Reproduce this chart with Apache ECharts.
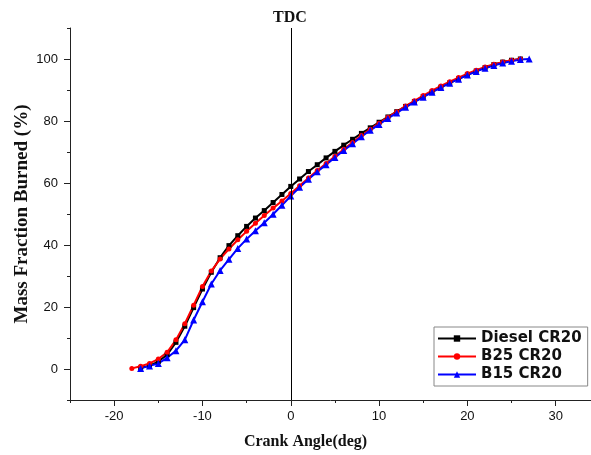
<!DOCTYPE html>
<html>
<head>
<meta charset="utf-8">
<script src="https://cdn.jsdelivr.net/npm/echarts@6/dist/echarts.min.js"></script>
<style>
  html, body { margin: 0; padding: 0; background: #fff; }
  #chart { width: 591px; height: 455px; }
</style>
</head>
<body>
<div id="chart"></div>
<script>
// Crank angle (deg) and mass fraction burned (%) for each fuel
const dieselAngles = [-17,-16,-15,-14,-13,-12,-11,-10,-9,-8,-7,-6,-5,-4,-3,-2,-1,0,1,2,3,4,5,6,7,8,9,10,11,12,13,14,15,16,17,18,19,20,21,22,23,24,25,26];
const dieselMfb = [0.3,1.1,2.4,4.6,8.6,13.8,19.8,25.8,31.2,35.9,39.8,43.0,46.0,48.7,51.1,53.7,56.3,58.9,61.3,63.7,65.9,68.1,70.2,72.2,74.1,76.0,77.8,79.6,81.3,83.0,84.7,86.3,87.9,89.4,90.9,92.3,93.6,94.9,96.1,97.2,98.2,99.0,99.6,100.0];

const b25Angles = [-18,-17,-16,-15,-14,-13,-12,-11,-10,-9,-8,-7,-6,-5,-4,-3,-2,-1,0,1,2,3,4,5,6,7,8,9,10,11,12,13,14,15,16,17,18,19,20,21,22,23,24,25,26];
const b25Mfb = [0.2,0.9,1.8,3.2,5.4,9.4,14.6,20.6,26.6,31.6,35.5,38.7,41.7,44.4,47.0,49.5,51.9,54.2,56.6,59.1,61.6,64.0,66.3,68.6,70.9,73.1,75.3,77.3,79.3,81.2,83.0,84.8,86.5,88.2,89.8,91.3,92.7,94.0,95.3,96.4,97.4,98.3,99.0,99.6,100.0];

const b15Angles = [-17,-16,-15,-14,-13,-12,-11,-10,-9,-8,-7,-6,-5,-4,-3,-2,-1,0,1,2,3,4,5,6,7,8,9,10,11,12,13,14,15,16,17,18,19,20,21,22,23,24,25,26,27];
const b15Mfb = [0.2,1.0,1.8,3.6,5.9,9.4,15.8,21.7,27.4,31.8,35.4,38.9,41.9,44.6,47.2,49.9,52.8,55.8,58.6,61.2,63.6,65.9,68.2,70.5,72.7,74.9,77.0,78.9,80.8,82.6,84.4,86.1,87.7,89.3,90.8,92.2,93.5,94.8,96.0,97.0,97.9,98.7,99.3,99.8,100.0];

const seriesNames = ['Diesel CR20', 'B25 CR20', 'B15 CR20'];
const seriesColors = ['#000000', '#ff0000', '#0000ff'];

const xMajorTicks = [-20, -10, 0, 10, 20, 30];
const xMinorTicks = [-25, -15, -5, 5, 15, 25];
const yMajorTicks = [0, 20, 40, 60, 80, 100];
const yMinorTicks = [-10, 10, 30, 50, 70, 90, 110];

const pairs = (xs, ys) => xs.map((x, i) => [x, ys[i]]);

const chart = echarts.init(document.getElementById('chart'), null, { renderer: 'canvas' });

const axisLineStyle = { color: '#222', width: 1 };
const labelFont = { fontFamily: 'Liberation Sans', fontSize: 13, color: '#111' };

const lineSeries = (name, color, symbol, size, data) => ({
  name: name,
  type: 'line',
  data: data,
  symbol: symbol,
  symbolSize: size,
  showSymbol: true,
  lineStyle: { color: color, width: 2 },
  itemStyle: { color: color },
  animation: false
});

chart.setOption({
  animation: false,
  backgroundColor: '#ffffff',
  grid: { left: 70, right: 0, top: 28, bottom: 55 },
  xAxis: [
    {
      type: 'value', min: -25, max: 34,
      axisLine: { show: true, onZero: false, lineStyle: axisLineStyle },
      axisTick: { show: true, length: 6, customValues: xMajorTicks, lineStyle: axisLineStyle },
      axisLabel: { customValues: xMajorTicks, margin: 10, ...labelFont },
      splitLine: { show: false },
      name: 'Crank Angle(deg)', nameLocation: 'middle', nameGap: 34,
      nameTextStyle: { fontFamily: 'Liberation Serif', fontWeight: 'bold', fontSize: 16, color: '#111', padding: [0, 0, 0, -50] }
    },
    {
      type: 'value', min: -25, max: 34, position: 'bottom',
      axisLine: { show: false, onZero: false },
      axisTick: { show: true, length: 3, customValues: xMinorTicks, lineStyle: axisLineStyle },
      axisLabel: { show: false },
      splitLine: { show: false }
    }
  ],
  yAxis: [
    {
      type: 'value', min: -10, max: 110,
      axisLine: { show: true, onZero: false, lineStyle: axisLineStyle },
      axisTick: { show: true, length: 6, customValues: yMajorTicks, lineStyle: axisLineStyle },
      axisLabel: { customValues: yMajorTicks, margin: 12, ...labelFont },
      splitLine: { show: false },
      name: 'Mass Fraction Burned (%)', nameLocation: 'middle', nameGap: 38, nameMoveOverlap: false,
      nameTextStyle: { fontFamily: 'Liberation Serif', fontWeight: 'bold', fontSize: 19, color: '#111' }
    },
    {
      type: 'value', min: -10, max: 110, position: 'left',
      axisLine: { show: false, onZero: false },
      axisTick: { show: true, length: 3, customValues: yMinorTicks, lineStyle: axisLineStyle },
      axisLabel: { show: false },
      splitLine: { show: false }
    }
  ],
  legend: {
    left: 434, top: 327,
    orient: 'vertical',
    data: seriesNames,
    itemWidth: 38, itemHeight: 8, itemGap: 3,
    padding: [4, 6, 4, 3],
    borderColor: '#888', borderWidth: 1,
    backgroundColor: '#fff',
    textStyle: { fontFamily: 'DejaVu Sans', fontWeight: 'bold', fontSize: 15, color: '#111', padding: [0, 0, 0, 0] }
  },
  graphic: [
    {
      type: 'text', left: 273, top: 10,
      style: { text: 'TDC', fontFamily: 'Liberation Serif', fontWeight: 'bold', fontSize: 16, fill: '#111' }
    }
  ],
  series: [
    Object.assign(lineSeries(seriesNames[0], seriesColors[0], 'rect', 5, pairs(dieselAngles, dieselMfb)), {
      markLine: {
        silent: true, symbol: 'none', label: { show: false },
        lineStyle: { color: '#000', width: 1, type: 'solid' },
        data: [{ xAxis: 0 }]
      }
    }),
    lineSeries(seriesNames[1], seriesColors[1], 'circle', 5, pairs(b25Angles, b25Mfb)),
    lineSeries(seriesNames[2], seriesColors[2], 'triangle', 7, pairs(b15Angles, b15Mfb))
  ]
});
</script>
</body>
</html>
